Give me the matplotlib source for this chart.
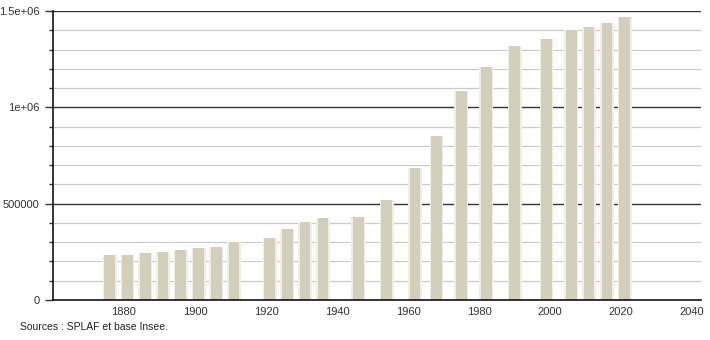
import matplotlib.pyplot as plt
from matplotlib.ticker import MultipleLocator

# Années de recensement et population
annees = [1876, 1881, 1886, 1891, 1896, 1901, 1906, 1911, 1921, 1926, 1931, 1936,
          1946, 1954, 1962, 1968, 1975, 1982, 1990, 1999, 2006, 2011, 2016, 2021]
population = [233000, 233000, 244000, 249000, 259000, 270000, 275000, 301000,
              322000, 368000, 405000, 425000, 431000, 519000, 685000, 853000,
              1084000, 1207000, 1316000, 1356000, 1401000, 1418000, 1436000, 1467000]

xticks = [1880, 1900, 1920, 1940, 1960, 1980, 2000, 2020, 2040]
yticks = [0, 500000, 1000000, 1500000]
ylabels = ["0", "500000", "1e+06", "1.5e+06"]

plt.rcParams['font.family'] = ['Liberation Sans', 'DejaVu Sans']

fig = plt.figure(figsize=(7.1, 3.4), dpi=100)
ax = fig.add_axes([53/710, 40/340, 648/710, 289/340])

# grille : gris clair tous les 100000, noir tous les 500000
for y in range(100000, 1500001, 100000):
    if y % 500000 == 0:
        ax.axhline(y, color='#333333', lw=1.0, zorder=1)
    else:
        ax.axhline(y, color='#cbcbcb', lw=0.9, zorder=1)

# barres avec un bord flou
ax.bar(annees, population, width=3.9, color='#f0eee6', zorder=2)
ax.bar(annees, population, width=3.0, color='#d3cfba', zorder=3)

ax.set_xlim(1860, 2042.5)
ax.set_ylim(0, 1500000)
ax.set_xticks(xticks)
ax.set_yticks(yticks)
ax.set_yticklabels(ylabels)
ax.yaxis.set_minor_locator(MultipleLocator(100000))

for s in ['top', 'right']:
    ax.spines[s].set_visible(False)
for s in ['left', 'bottom']:
    ax.spines[s].set_color('#111111')
    ax.spines[s].set_linewidth(1.2)
    ax.spines[s].set_zorder(5)

ax.tick_params(axis='x', length=0, labelsize=8, colors='#333333', pad=5)
ax.tick_params(axis='y', which='major', length=6, width=1, labelsize=8, colors='#333333')
ax.tick_params(axis='y', which='minor', length=3, width=1, color='#333333')

fig.text(20/710, 1 - 327/340, "Sources : SPLAF et base Insee.", fontsize=7.5,
         color='#222222', va='center', ha='left')

fig.savefig('out.png', dpi=100)
